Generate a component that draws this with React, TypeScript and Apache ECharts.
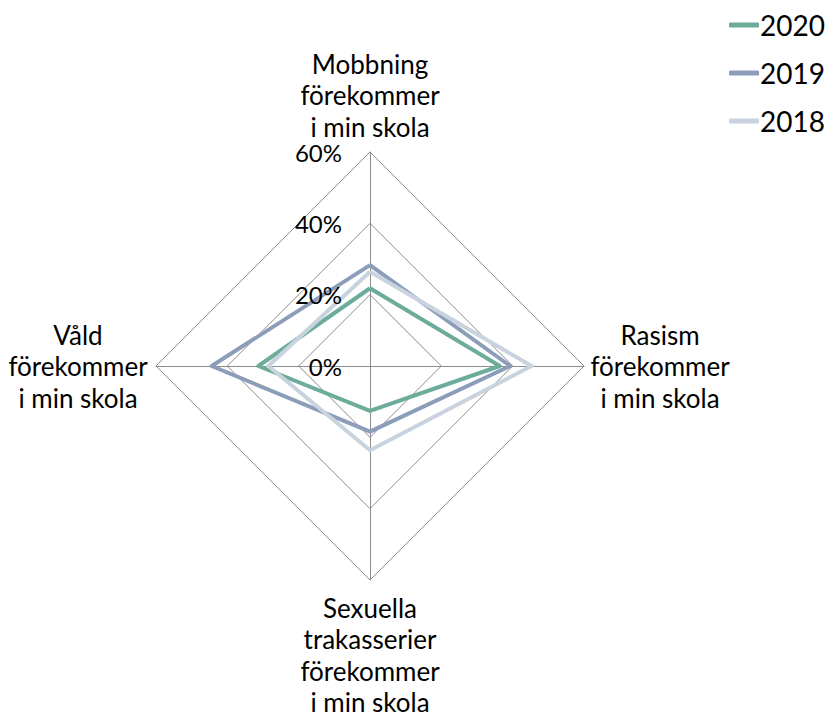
import React, { useEffect, useRef } from "react";
import * as echarts from "echarts";

const indicators = [
  "Mobbning\nförekommer\ni min skola",
  "Våld\nförekommer\ni min skola",
  "Sexuella\ntrakasserier\nförekommer\ni min skola",
  "Rasism\nförekommer\ni min skola",
];
// order: Mobbning, Våld, Sexuella, Rasism
const years = ["2020", "2019", "2018"];
const values2020 = [21.8, 31.3, 12.6, 36.4];
const values2019 = [28.3, 44.4, 18.4, 39.3];
const values2018 = [26.4, 28.5, 23.6, 45.3];
const tickLabels = ["0%", "20%", "40%", "60%"];
const tickValues = [0, 20, 40, 60];
const maxValue = 60;
const colors = ["#6dac9b", "#8c9dba", "#c8d3de"];

const FONT = "Lato, 'Open Sans', sans-serif";
const CX = 370;
const CY = 366;
const R = 214;

export default function App() {
  const ref = useRef<HTMLDivElement>(null);
  useEffect(() => {
    const chart = echarts.init(ref.current!, null, { renderer: "svg" });
    const nameStyle = {
      fontSize: 26,
      lineHeight: 31.5,
      fontFamily: FONT,
      fill: "#000",
      align: "center",
      verticalAlign: "middle",
    };
    const tickGraphics = tickValues.map((v, i) => ({
      type: "text",
      x: CX - 28,
      y: CY - (v / maxValue) * R,
      style: {
        text: tickLabels[i],
        fontSize: 24,
        fontFamily: FONT,
        fill: "#000",
        align: "right",
        verticalAlign: "middle",
      },
      z: 10,
    }));
    const nameGraphics = [
      { x: CX, y: 95, text: indicators[0] },
      { x: 78, y: CY, text: indicators[1] },
      { x: CX, y: 655, text: indicators[2] },
      { x: 660, y: CY, text: indicators[3] },
    ].map((n) => ({
      type: "text",
      x: n.x,
      y: n.y,
      style: { ...nameStyle, text: n.text },
    }));
    chart.setOption({
      animation: false,
      color: colors,
      legend: {
        data: years,
        orient: "vertical",
        right: 2,
        top: 5,
        icon: "roundRect",
        itemWidth: 30,
        itemHeight: 5,
        itemGap: 18,
        textStyle: { fontSize: 28, lineHeight: 30, fontFamily: FONT, color: "#000", padding: [0, 0, 0, -4] },
      },
      radar: {
        center: [CX, CY],
        radius: R,
        startAngle: 90,
        shape: "polygon",
        splitNumber: 3,
        indicator: indicators.map((name) => ({ name, min: 0, max: maxValue })),
        axisName: { show: false },
        axisLine: { lineStyle: { color: "#8c8c8c", width: 1 } },
        splitLine: { lineStyle: { color: "#8c8c8c", width: 1 } },
        splitArea: { show: false },
        axisLabel: { show: false },
        axisTick: { show: false },
      },
      graphic: [...tickGraphics, ...nameGraphics],
      series: [
        {
          type: "radar",
          symbol: "none",
          lineStyle: { width: 4 },
          data: [
            { name: years[0], value: values2020, lineStyle: { color: colors[0], width: 4 }, itemStyle: { color: colors[0] } },
            { name: years[1], value: values2019, lineStyle: { color: colors[1], width: 4 }, itemStyle: { color: colors[1] } },
            { name: years[2], value: values2018, lineStyle: { color: colors[2], width: 4 }, itemStyle: { color: colors[2] } },
          ],
        },
      ],
    });
    return () => chart.dispose();
  }, []);
  return (
    <div
      ref={ref}
      style={{ position: "absolute", left: 0, top: 0, width: 832, height: 715, background: "#fff" }}
    />
  );
}
